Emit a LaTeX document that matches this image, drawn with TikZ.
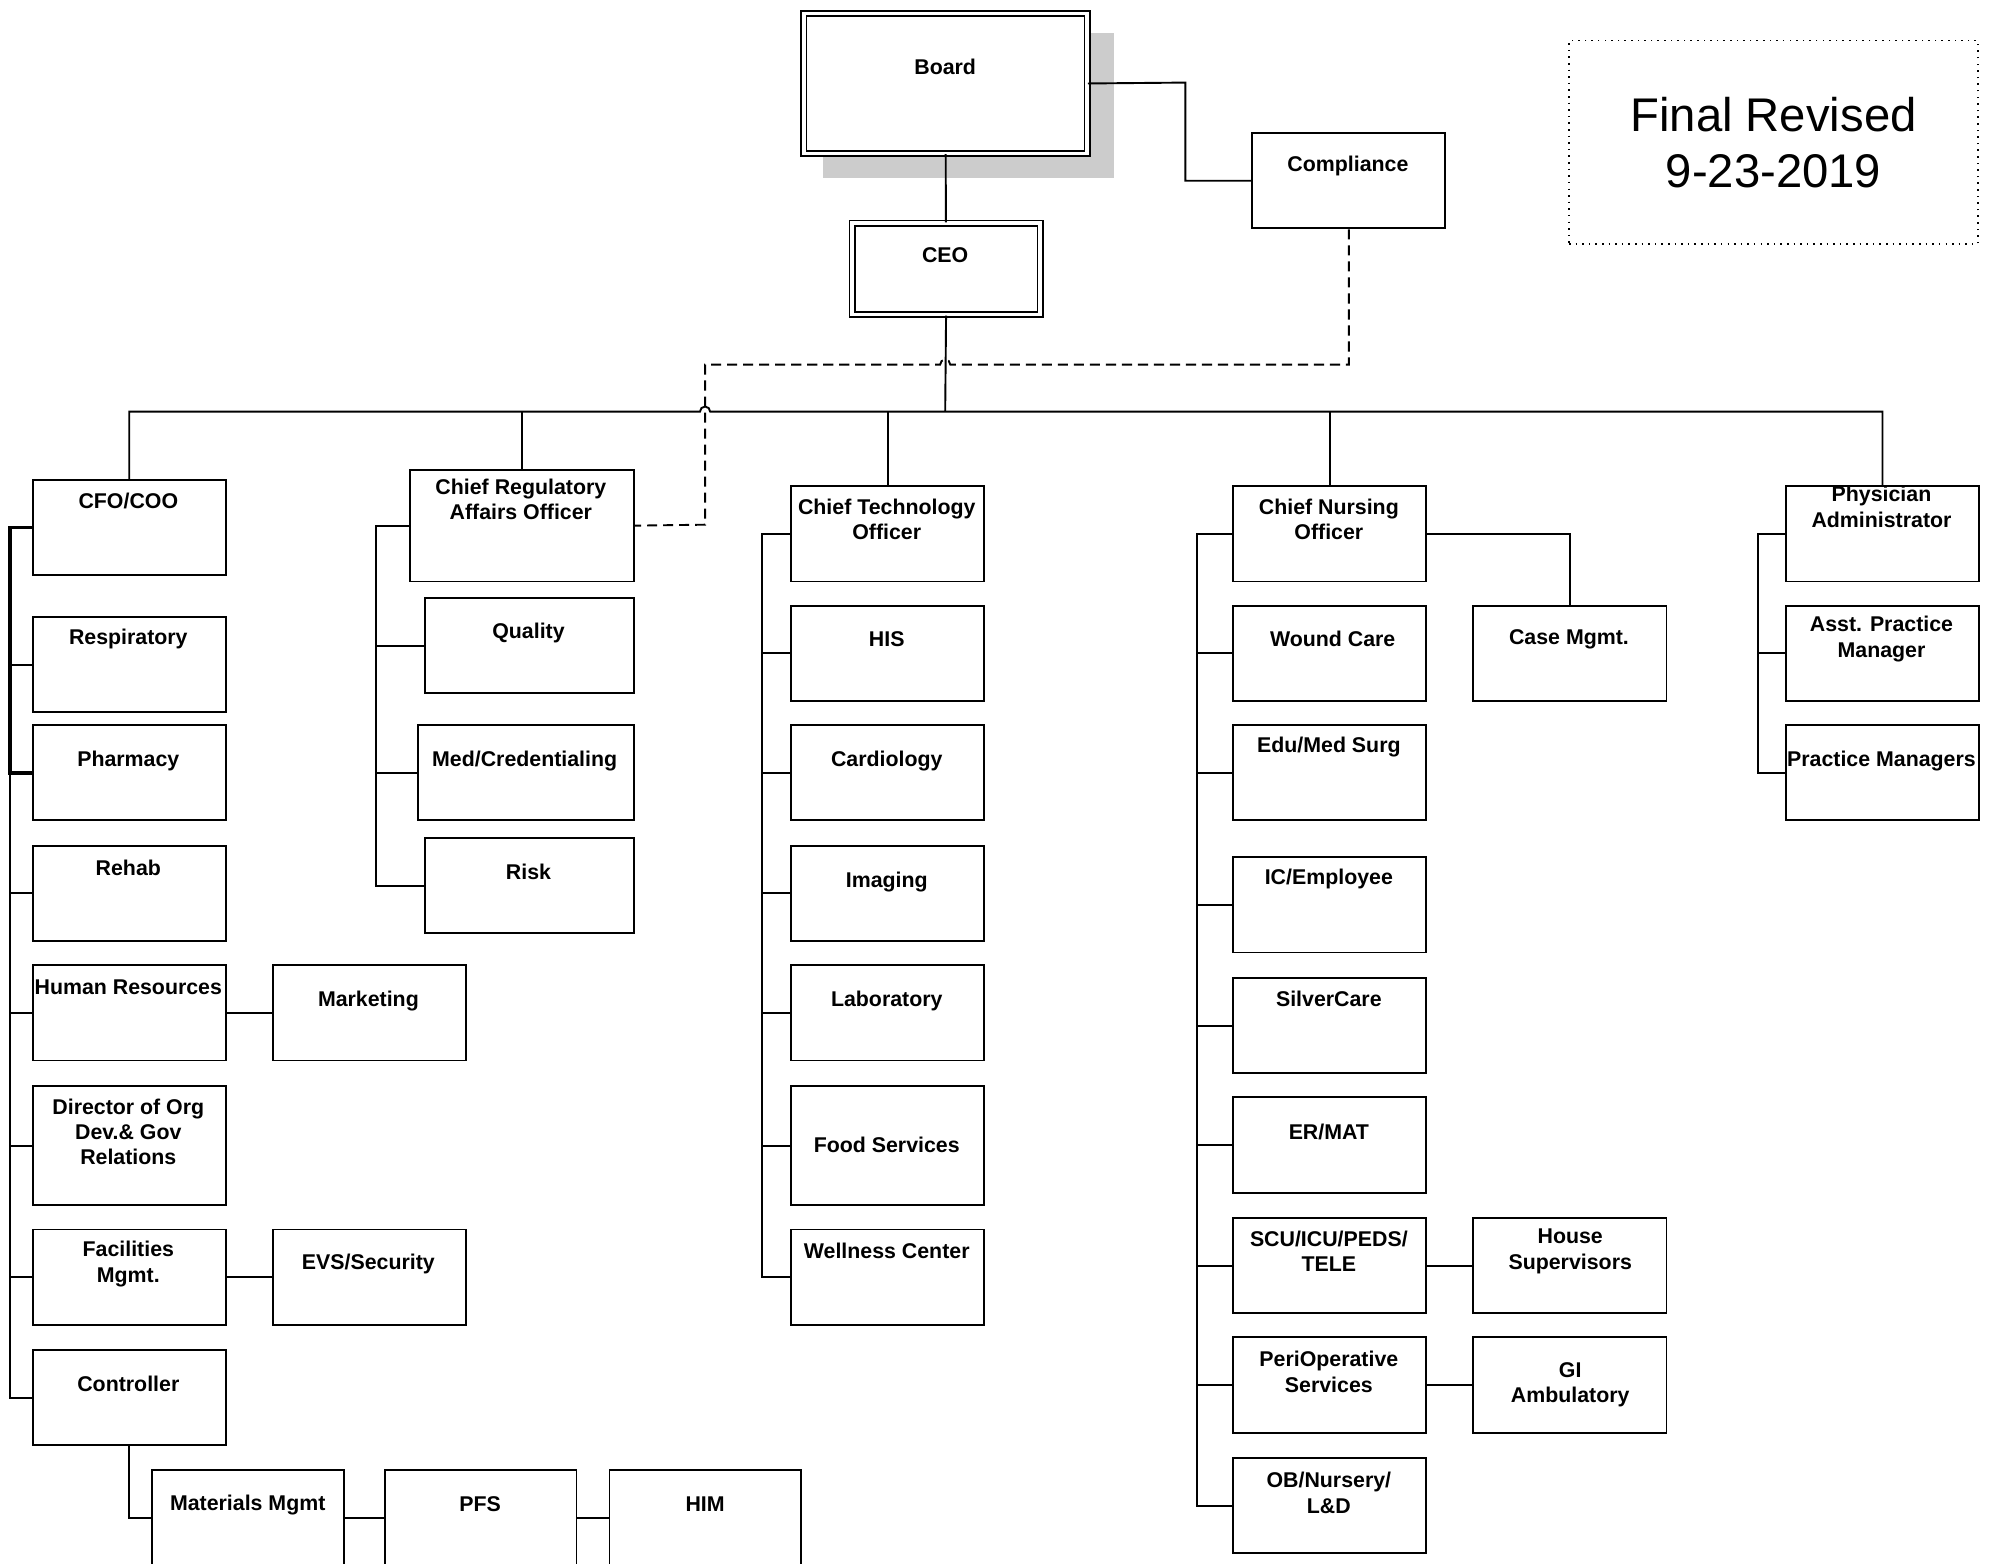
\documentclass[tikz,border=0pt]{standalone}
\usepackage{fontspec}
\setmainfont{Liberation Sans}
\definecolor{shadowgray}{RGB}{204,204,204}
\tikzset{
  unit/.style={draw,fill=white,inner sep=0pt,anchor=north west,minimum width=76pt,minimum height=37.5pt},
  head/.style={unit,double,double distance=1.4pt,line width=0.7pt},
  txt/.style={inner sep=0pt,align=center,font=\fontsize{8.4}{10}\selectfont\bfseries},
  linkdash/.style={dash pattern=on 4pt off 2.3pt}
}

\begin{document}
\begin{tikzpicture}[x=0.5pt,y=-0.5pt,line width=0.75pt]
  \useasboundingbox (0,0) rectangle (1568,1231);
  \clip (0,0) rectangle (1568,1231);
  \coordinate (bus) at (744,324);

  \fill[shadowgray] (648,26) rectangle (877,140);
  \node[head,minimum width=111.5pt,minimum height=55pt] (board) at (632,10) {};
  \node[txt] (board-t) at (744,53) {Board};
  \node[head,minimum width=74pt,minimum height=36pt] (ceo) at (670,175) {};
  \node[txt] (ceo-t) at (744,201) {CEO};
  \node[unit] (comp) at (985,104) {};
  \node[txt] (comp-t) at (1061,131) {Compliance};
  \node[draw,dotted,line width=0.6pt,minimum width=161pt,minimum height=80pt,align=center,
    font=\fontsize{18.6}{22}\selectfont] (stamp) at (1396,112) {Final Revised\\9-23-2019};

  \node[unit] (cfo) at (25,377) {};
  \node[txt] (cfo-t) at (101,394) {CFO/COO};
  \node[unit] (resp) at (25,485) {};
  \node[txt] (resp-t) at (101,503) {Respiratory};
  \node[unit] (pharm) at (25,570) {};
  \node[txt] (pharm-t) at (101,599) {Pharmacy};
  \node[unit] (rehab) at (25,665) {};
  \node[txt] (rehab-t) at (101,683) {Rehab};
  \node[unit] (hr) at (25,759) {};
  \node[txt] (hr-t) at (101,777) {Human Resources};
  \node[unit] (mkt) at (214,759) {};
  \node[txt] (mkt-t) at (290,788) {Marketing};
  \node[unit,minimum height=47pt] (dir) at (25,854) {};
  \node[txt] (dir-t) at (101,891) {Director of Org\\Dev.\& Gov\\Relations};
  \node[unit] (fac) at (25,967) {};
  \node[txt] (fac-t) at (101,995) {Facilities\\Mgmt.};
  \node[unit] (evs) at (214,967) {};
  \node[txt] (evs-t) at (290,995) {EVS/Security};
  \node[unit] (ctrl) at (25,1062) {};
  \node[txt] (ctrl-t) at (101,1089) {Controller};
  \node[unit,minimum width=75.5pt,minimum height=38pt] (mat) at (119,1156) {};
  \node[txt] (mat-t) at (195,1185) {Materials Mgmt};
  \node[unit,minimum width=75.5pt,minimum height=38pt] (pfs) at (302,1156) {};
  \node[txt] (pfs-t) at (378,1184) {PFS};
  \node[unit,minimum width=75.5pt,minimum height=38pt] (him) at (479,1156) {};
  \node[txt] (him-t) at (555,1184) {HIM};

  \node[unit,minimum width=88pt,minimum height=44pt] (cra) at (322,369) {};
  \node[txt] (cra-t) at (410,393) {Chief Regulatory\\Affairs Officer};
  \node[unit,minimum width=82pt] (qual) at (334,470) {};
  \node[txt] (qual-t) at (416,498) {Quality};
  \node[unit,minimum width=85pt] (cred) at (328,570) {};
  \node[txt] (cred-t) at (413,599) {Med/Credentialing};
  \node[unit,minimum width=82pt] (risk) at (334,659) {};
  \node[txt] (risk-t) at (416,686) {Risk};

  \node[unit] (cto) at (622,382) {};
  \node[txt] (cto-t) at (698,409) {Chief Technology\\Officer};
  \node[unit] (his) at (622,476) {};
  \node[txt] (his-t) at (698,503) {HIS};
  \node[unit] (card) at (622,570) {};
  \node[txt] (card-t) at (698,599) {Cardiology};
  \node[unit] (img) at (622,665) {};
  \node[txt] (img-t) at (698,694) {Imaging};
  \node[unit] (lab) at (622,759) {};
  \node[txt] (lab-t) at (698,788) {Laboratory};
  \node[unit,minimum height=47pt] (food) at (622,854) {};
  \node[txt] (food-t) at (698,901) {Food Services};
  \node[unit] (well) at (622,967) {};
  \node[txt] (well-t) at (698,985) {Wellness Center};

  \node[unit] (cno) at (970,382) {};
  \node[txt] (cno-t) at (1046,409) {Chief Nursing\\Officer};
  \node[unit] (wound) at (970,476) {};
  \node[txt] (wound-t) at (1049,503) {Wound Care};
  \node[unit] (case) at (1159,476) {};
  \node[txt] (case-t) at (1235,503) {Case Mgmt.};
  \node[unit] (edu) at (970,570) {};
  \node[txt] (edu-t) at (1046,588) {Edu/Med Surg};
  \node[unit] (ic) at (970,674) {};
  \node[txt] (ic-t) at (1046,692) {IC/Employee};
  \node[unit] (silver) at (970,769) {};
  \node[txt] (silver-t) at (1046,786) {SilverCare};
  \node[unit] (er) at (970,863) {};
  \node[txt] (er-t) at (1046,891) {ER/MAT};
  \node[unit] (scu) at (970,958) {};
  \node[txt] (scu-t) at (1046,985) {SCU/ICU/PEDS/\\TELE};
  \node[unit] (house) at (1159,958) {};
  \node[txt] (house-t) at (1236,985) {House\\Supervisors};
  \node[unit] (peri) at (970,1052) {};
  \node[txt] (peri-t) at (1046,1080) {PeriOperative\\Services};
  \node[unit] (gi) at (1159,1052) {};
  \node[txt] (gi-t) at (1236,1090) {GI\\Ambulatory};
  \node[unit] (ob) at (970,1147) {};
  \node[txt] (ob-t) at (1046,1175) {OB/Nursery/\\L\&D};

  \node[unit] (pa) at (1405,382) {};
  \node[txt] (pa-t) at (1481,399) {Physician\\Administrator};
  \node[unit] (asst) at (1405,476) {};
  \node[txt] (asst-t) at (1481,503) {Asst. Practice\\Manager};
  \node[unit] (pm) at (1405,570) {};
  \node[txt] (pm-t) at (1481,599) {Practice Managers};

  \draw (board) -- (ceo);
  \draw (board.east) -- (933,65) |- (comp.west);
  \draw (ceo.south) -- (bus);
  \draw (cfo.north) |- (551,324) arc[start angle=180,end angle=360,radius=4] -| (pa.north);
  \foreach \n in {cra,cto,cno} \draw (\n.north) -- (\n.north |- bus);
  \draw[linkdash] (comp.south) |- (748,287) arc[start angle=360,end angle=180,radius=4] -| (555,413) -- (cra.east);

  \foreach \n in {resp,pharm,rehab,hr,dir,fac,ctrl} \draw (cfo.west) -- ++(-17,0) |- (\n.west);
  \draw[line width=1.4pt] (cfo.west) -- ++(-17,0) |- (pharm.west);
  \foreach \n in {qual,cred,risk} \draw (cra.west) -- ++(-26,0) |- (\n.west);
  \foreach \n in {his,card,img,lab,food,well} \draw (cto.west) -- ++(-22,0) |- (\n.west);
  \foreach \n in {wound,edu,ic,silver,er,scu,peri,ob} \draw (cno.west) -- ++(-28,0) |- (\n.west);
  \foreach \n in {asst,pm} \draw (pa.west) -- ++(-21,0) |- (\n.west);
  \draw (cno.east) -| (case.north);
  \draw (hr) -- (mkt);
  \draw (fac) -- (evs);
  \draw (scu) -- (house);
  \draw (peri) -- (gi);
  \draw (ctrl.south) |- (mat.west);
  \draw (mat) -- (pfs);
  \draw (pfs) -- (him);
\end{tikzpicture}
\end{document}
